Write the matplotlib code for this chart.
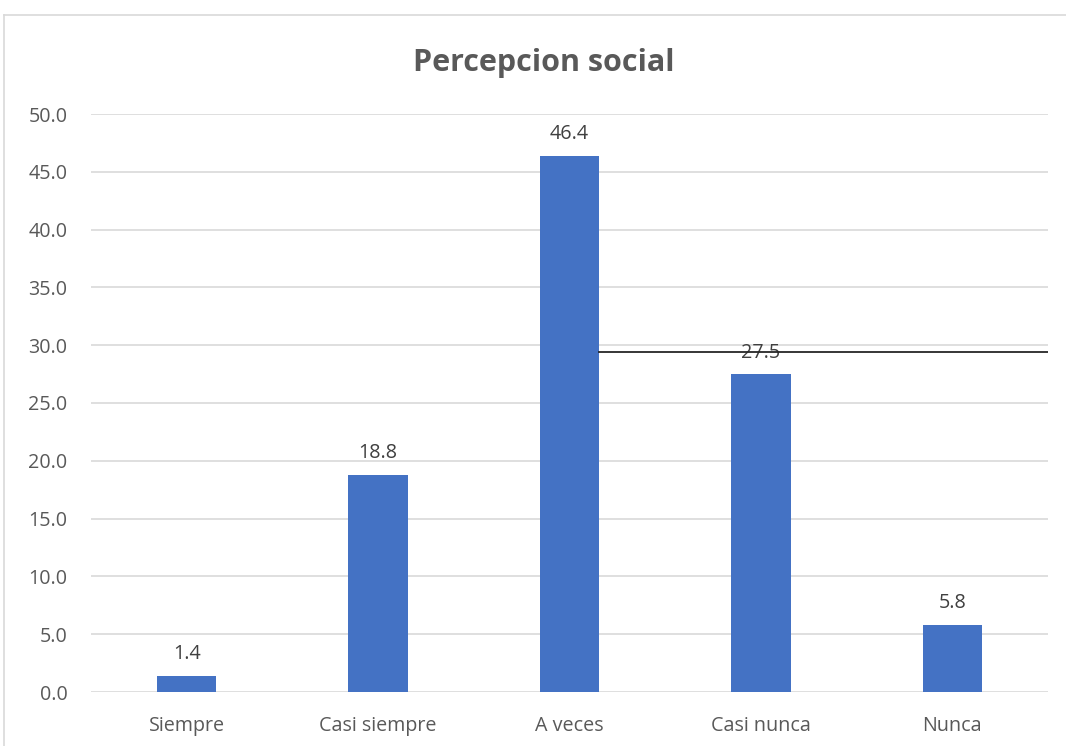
import matplotlib
matplotlib.use('Agg')
import matplotlib.pyplot as plt
from matplotlib.lines import Line2D

categorias = ['Siempre', 'Casi siempre', 'A veces', 'Casi nunca', 'Nunca']
valores = [1.4, 18.8, 46.4, 27.5, 5.8]
yticks = [0, 5, 10, 15, 20, 25, 30, 35, 40, 45, 50]
linea_negra = 29.4

plt.rcParams['font.family'] = ['Open Sans', 'DejaVu Sans']

fig = plt.figure(figsize=(10.66, 7.46), dpi=100)
ax = fig.add_axes([91/1066, 1-692/746, 957/1066, 578/746])

x = range(len(categorias))
ancho = 0.31
ax.bar(x, valores, width=ancho, color='#4472C4', zorder=3)
for i, v in enumerate(valores):
    ax.text(i, v + 1.0, '%.1f' % v, ha='center', va='bottom', fontsize=14.2, color='#404040', zorder=4)

ax.set_xlim(-0.5, len(categorias) - 0.5)
ax.set_ylim(0, 50)
ax.set_yticks(yticks)
ax.set_yticklabels(['%.1f' % t for t in yticks])
ax.set_xticks(list(x))
ax.set_xticklabels(categorias)
ax.tick_params(axis='both', length=0, labelsize=14.2, labelcolor='#595959')
ax.tick_params(axis='y', pad=17)
ax.tick_params(axis='x', pad=17)
ax.grid(axis='y', color='#D9D9D9', linewidth=1.2, zorder=0)
for s in ax.spines.values():
    s.set_visible(False)

# linea negra suelta a la derecha de la barra "A veces"
ax.plot([2 + ancho/2, len(categorias) - 0.5], [linea_negra, linea_negra], color='#262626', linewidth=1.3, zorder=5)

fig.text(544/1066, 1-63/746, 'Percepcion social', ha='center', va='center',
         fontsize=22, fontweight='bold', color='#595959')

# borde del grafico
fig.add_artist(Line2D([4/1066, 4/1066], [0, 1-15/746], color='#D9D9D9', linewidth=1.2))
fig.add_artist(Line2D([4/1066, 1], [1-15/746, 1-15/746], color='#D9D9D9', linewidth=1.2))

fig.savefig('out.png', dpi=100)
